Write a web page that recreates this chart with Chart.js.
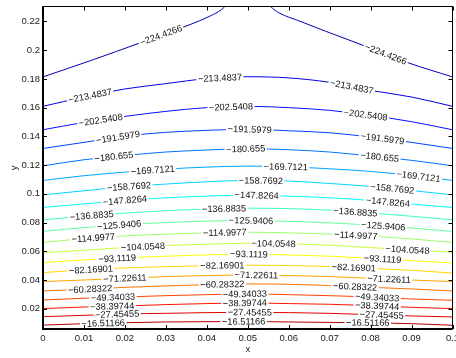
<!DOCTYPE html>
<html>
<head>
<meta charset="utf-8">
<script src="https://cdn.jsdelivr.net/npm/chart.js@4.4.1/dist/chart.umd.min.js"></script>
<style>
  html, body { margin: 0; padding: 0; background: #fff; }
  #wrap { width: 456px; height: 358px; }
</style>
</head>
<body>
<div id="wrap"><canvas id="contourChart"></canvas></div>
<script>
// tick labels
const xTicks = [0, 0.01, 0.02, 0.03, 0.04, 0.05, 0.06, 0.07, 0.08, 0.09, 0.1];
const yTicks = [0.02, 0.04, 0.06, 0.08, 0.1, 0.12, 0.14, 0.16, 0.18, 0.2, 0.22];

// contour levels, top (blue) to bottom (red)
const levels = [-224.4266, -213.4837, -202.5408, -191.5979, -180.655, -169.7121, -158.7692,
  -147.8264, -136.8835, -125.9406, -114.9977, -104.0548, -93.1119, -82.16901, -71.22611,
  -60.28322, -49.34033, -38.39744, -27.45455, -16.51166];

// the -224.4266 line leaves the top of the plot, so it comes in two pieces
const c224LeftX = [0, 0.0123, 0.0237, 0.0359, 0.0407, 0.0436, 0.0444];
const c224LeftY = [0.1814, 0.1934, 0.2051, 0.2178, 0.2236, 0.2283, 0.2304];
const c224RightX = [0.0556, 0.0564, 0.0578, 0.0627, 0.069, 0.0788, 0.0893, 0.1];
const c224RightY = [0.2304, 0.2283, 0.2257, 0.2202, 0.2132, 0.2027, 0.1911, 0.1814];

// the other lines, read at x = 0, 0.01, ... 0.1
const c213 = [0.1609, 0.1674, 0.1730, 0.1767, 0.1802, 0.1815, 0.1807, 0.1776, 0.1720, 0.1674, 0.1609];
const c202 = [0.1446, 0.1497, 0.1539, 0.1574, 0.1600, 0.1609, 0.1600, 0.1581, 0.1546, 0.1502, 0.1446];
const c191 = [0.1316, 0.1358, 0.1402, 0.1428, 0.1442, 0.1449, 0.1439, 0.1425, 0.1395, 0.1358, 0.1316];
const c180 = [0.1195, 0.1237, 0.1267, 0.1291, 0.1305, 0.1314, 0.1307, 0.1291, 0.1263, 0.1233, 0.1195];
const c169 = [0.1093, 0.1126, 0.1151, 0.1172, 0.1186, 0.1193, 0.1188, 0.1174, 0.1156, 0.1128, 0.1093];
const c158 = [0.0993, 0.1021, 0.1049, 0.1068, 0.1084, 0.1093, 0.1089, 0.1072, 0.1051, 0.1023, 0.0993];
const c147 = [0.0905, 0.0930, 0.0954, 0.0972, 0.0984, 0.0991, 0.0984, 0.0972, 0.0954, 0.0928, 0.0905];
const c136 = [0.0819, 0.0845, 0.0866, 0.0882, 0.0894, 0.0900, 0.0897, 0.0886, 0.0866, 0.0844, 0.0819];
const c125 = [0.0738, 0.0765, 0.0786, 0.0800, 0.0810, 0.0814, 0.0808, 0.0798, 0.0782, 0.0762, 0.0738];
const c114 = [0.0661, 0.0689, 0.0707, 0.0719, 0.0728, 0.0733, 0.0728, 0.0720, 0.0705, 0.0686, 0.0661];
const c104 = [0.0591, 0.0607, 0.0626, 0.0640, 0.0649, 0.0656, 0.0652, 0.0642, 0.0626, 0.0609, 0.0593];
const c93 = [0.0521, 0.0540, 0.0554, 0.0566, 0.0575, 0.0580, 0.0574, 0.0566, 0.0551, 0.0535, 0.0519];
const c82 = [0.0452, 0.0470, 0.0484, 0.0493, 0.0500, 0.0503, 0.0501, 0.0494, 0.0482, 0.0467, 0.0449];
const c71 = [0.0389, 0.0400, 0.0412, 0.0424, 0.0431, 0.0435, 0.0431, 0.0424, 0.0412, 0.0400, 0.0389];
const c60 = [0.0324, 0.0335, 0.0349, 0.0359, 0.0368, 0.0373, 0.0370, 0.0361, 0.0349, 0.0338, 0.0324];
const c49 = [0.0261, 0.0273, 0.0282, 0.0291, 0.0298, 0.0303, 0.0298, 0.0291, 0.0282, 0.0268, 0.0259];
const c38 = [0.0201, 0.0212, 0.0219, 0.0229, 0.0236, 0.0240, 0.0236, 0.0231, 0.0222, 0.0210, 0.0201];
const c27 = [0.0145, 0.0154, 0.0164, 0.0168, 0.0173, 0.0175, 0.0173, 0.0168, 0.0159, 0.0150, 0.0143];
const c16 = [0.0086, 0.0096, 0.0103, 0.0108, 0.0110, 0.0111, 0.0108, 0.0105, 0.0103, 0.0096, 0.0085];

// where the inline level labels sit (x values)
const labelAt = [
  [0.0288, 0.0837], [0.0115, 0.0432, 0.0754], [0.0141, 0.0459, 0.0788], [0.0183, 0.0505, 0.0829],
  [0.0173, 0.0495, 0.0822], [0.0268, 0.0593, 0.0917], [0.021, 0.0532, 0.0853], [0.020, 0.0522, 0.0842],
  [0.0119, 0.0442, 0.0763], [0.0186, 0.0508, 0.0831], [0.0123, 0.0444, 0.0764], [0.0244, 0.0563, 0.089],
  [0.0181, 0.0503, 0.0829], [0.0117, 0.0438, 0.0759], [0.020, 0.0521, 0.0845], [0.0115, 0.0438, 0.0762],
  [0.0171, 0.0493, 0.0816], [0.0169, 0.0493, 0.0816], [0.0181, 0.0505, 0.0827], [0.0147, 0.049, 0.0793]
];

// jet colours for the levels
const lineColors = ['#0000b0', '#0000e1', '#0012ff', '#0043ff', '#0073ff', '#00a4ff', '#00d4ff',
  '#06fff9', '#37ffc8', '#67ff98', '#98ff67', '#c8ff37', '#f9ff06', '#ffd400', '#ffa400',
  '#ff7300', '#ff4300', '#ff1200', '#e10000', '#b00000'];

const FONT = '"Liberation Sans", Arial, Helvetica, sans-serif';
const levelText = v => String(v).replace('-', '\u2212');

const toPoints = (xs, ys) => xs.map((x, i) => ({ x, y: ys[i] }));

const makeLine = (points, idx, labels) => ({
  data: points,
  showLine: true,
  borderColor: lineColors[idx],
  borderWidth: 1,
  pointRadius: 0,
  cubicInterpolationMode: 'monotone',
  levelLabel: levelText(levels[idx]),
  labelAt: labels
});

const buildDatasets = () => {
  const rows = [c213, c202, c191, c180, c169, c158, c147, c136, c125, c114,
    c104, c93, c82, c71, c60, c49, c38, c27, c16];
  const sets = [
    makeLine(toPoints(c224LeftX, c224LeftY), 0, [labelAt[0][0]]),
    makeLine(toPoints(c224RightX, c224RightY), 0, [labelAt[0][1]])
  ];
  rows.forEach((ys, i) => sets.push(makeLine(toPoints(xTicks, ys), i + 1, labelAt[i + 1])));
  return sets;
};

// find pixel position + angle of a line at a given x
const locate = (chart, ds, xv) => {
  const xs = chart.scales.x, ys = chart.scales.y;
  const pts = ds.data;
  let k = 0;
  while (k < pts.length - 2 && pts[k + 1].x < xv) k++;
  const a = pts[k], b = pts[k + 1];
  const t = (xv - a.x) / (b.x - a.x);
  const yv = a.y + t * (b.y - a.y);
  const ax = xs.getPixelForValue(a.x), ay = ys.getPixelForValue(a.y);
  const bx = xs.getPixelForValue(b.x), by = ys.getPixelForValue(b.y);
  return { px: xs.getPixelForValue(xv), py: ys.getPixelForValue(yv), angle: Math.atan2(by - ay, bx - ax) };
};

const labelPlugin = {
  id: 'contourLabels',
  afterDatasetsDraw(chart) {
    const ctx = chart.ctx;
    const area = chart.chartArea;
    ctx.save();
    ctx.beginPath();
    ctx.rect(area.left, area.top, area.right - area.left, area.bottom - area.top);
    ctx.clip();
    ctx.font = '9.3px ' + FONT;
    ctx.textAlign = 'center';
    ctx.textBaseline = 'middle';
    chart.data.datasets.forEach(ds => {
      ds.labelAt.forEach(xv => {
        const p = locate(chart, ds, xv);
        const w = ctx.measureText(ds.levelLabel).width;
        ctx.save();
        ctx.translate(p.px, p.py);
        ctx.rotate(p.angle);
        ctx.fillStyle = '#fff';
        ctx.fillRect(-w / 2 - 1.5, -3.5, w + 3, 7);
        ctx.fillStyle = '#111';
        ctx.fillText(ds.levelLabel, 0, 0.5);
        ctx.restore();
      });
    });
    ctx.restore();
  }
};

const framePlugin = {
  id: 'frame',
  afterDraw(chart) {
    const { ctx, chartArea: a, scales: { x, y } } = chart;
    ctx.save();
    ctx.strokeStyle = '#000';
    ctx.lineWidth = 1;
    ctx.beginPath();
    xTicks.forEach(v => {
      const px = Math.round(x.getPixelForValue(v)) + 0.5;
      ctx.moveTo(px, a.bottom); ctx.lineTo(px, a.bottom - 4);
      ctx.moveTo(px, a.top); ctx.lineTo(px, a.top + 4);
    });
    yTicks.forEach(v => {
      const py = Math.round(y.getPixelForValue(v)) + 0.5;
      ctx.moveTo(a.left, py); ctx.lineTo(a.left + 4, py);
      ctx.moveTo(a.right, py); ctx.lineTo(a.right - 4, py);
    });
    ctx.stroke();
    ctx.strokeRect(a.left, a.top, a.right - a.left, a.bottom - a.top);
    ctx.lineWidth = 2;
    ctx.beginPath();
    ctx.moveTo(a.left, a.top);
    ctx.lineTo(a.left, a.bottom);
    ctx.lineTo(a.right, a.bottom);
    ctx.stroke();
    ctx.restore();
  }
};

const tickFont = { family: FONT, size: 9.5 };

const initChart = () => {
  const ctx = document.getElementById('contourChart').getContext('2d');
  new Chart(ctx, {
    type: 'scatter',
    data: { datasets: buildDatasets() },
    options: {
      responsive: true,
      maintainAspectRatio: false,
      animation: false,
      layout: { padding: { top: 6.5, right: 3.5, left: 0, bottom: 0 } },
      plugins: { legend: { display: false }, tooltip: { enabled: false } },
      scales: {
        x: {
          type: 'linear', min: 0, max: 0.1,
          grid: { display: false, drawTicks: false },
          border: { display: false },
          afterBuildTicks: s => { s.ticks = xTicks.map(v => ({ value: v })); },
          afterFit: s => { s.height = 29; s.paddingLeft = 0; s.paddingRight = 0; },
          ticks: { padding: 4, color: '#222', font: tickFont, maxRotation: 0, autoSkip: false, callback: v => String(v) },
          title: { display: true, text: 'x', color: '#222', font: tickFont, padding: { top: 0, bottom: 3 } }
        },
        y: {
          type: 'linear', min: 0.0059, max: 0.2304,
          grid: { display: false, drawTicks: false },
          border: { display: false },
          afterBuildTicks: s => { s.ticks = yTicks.map(v => ({ value: v })); },
          afterFit: s => { s.width = 43; s.paddingTop = 0; s.paddingBottom = 0; },
          ticks: { padding: 3, color: '#222', font: tickFont, autoSkip: false, callback: v => String(v) },
          title: { display: true, text: 'y', color: '#222', font: tickFont, padding: { top: 9, bottom: 0 } }
        }
      }
    },
    plugins: [labelPlugin, framePlugin]
  });
};

document.addEventListener('DOMContentLoaded', initChart);
</script>
</body>
</html>
